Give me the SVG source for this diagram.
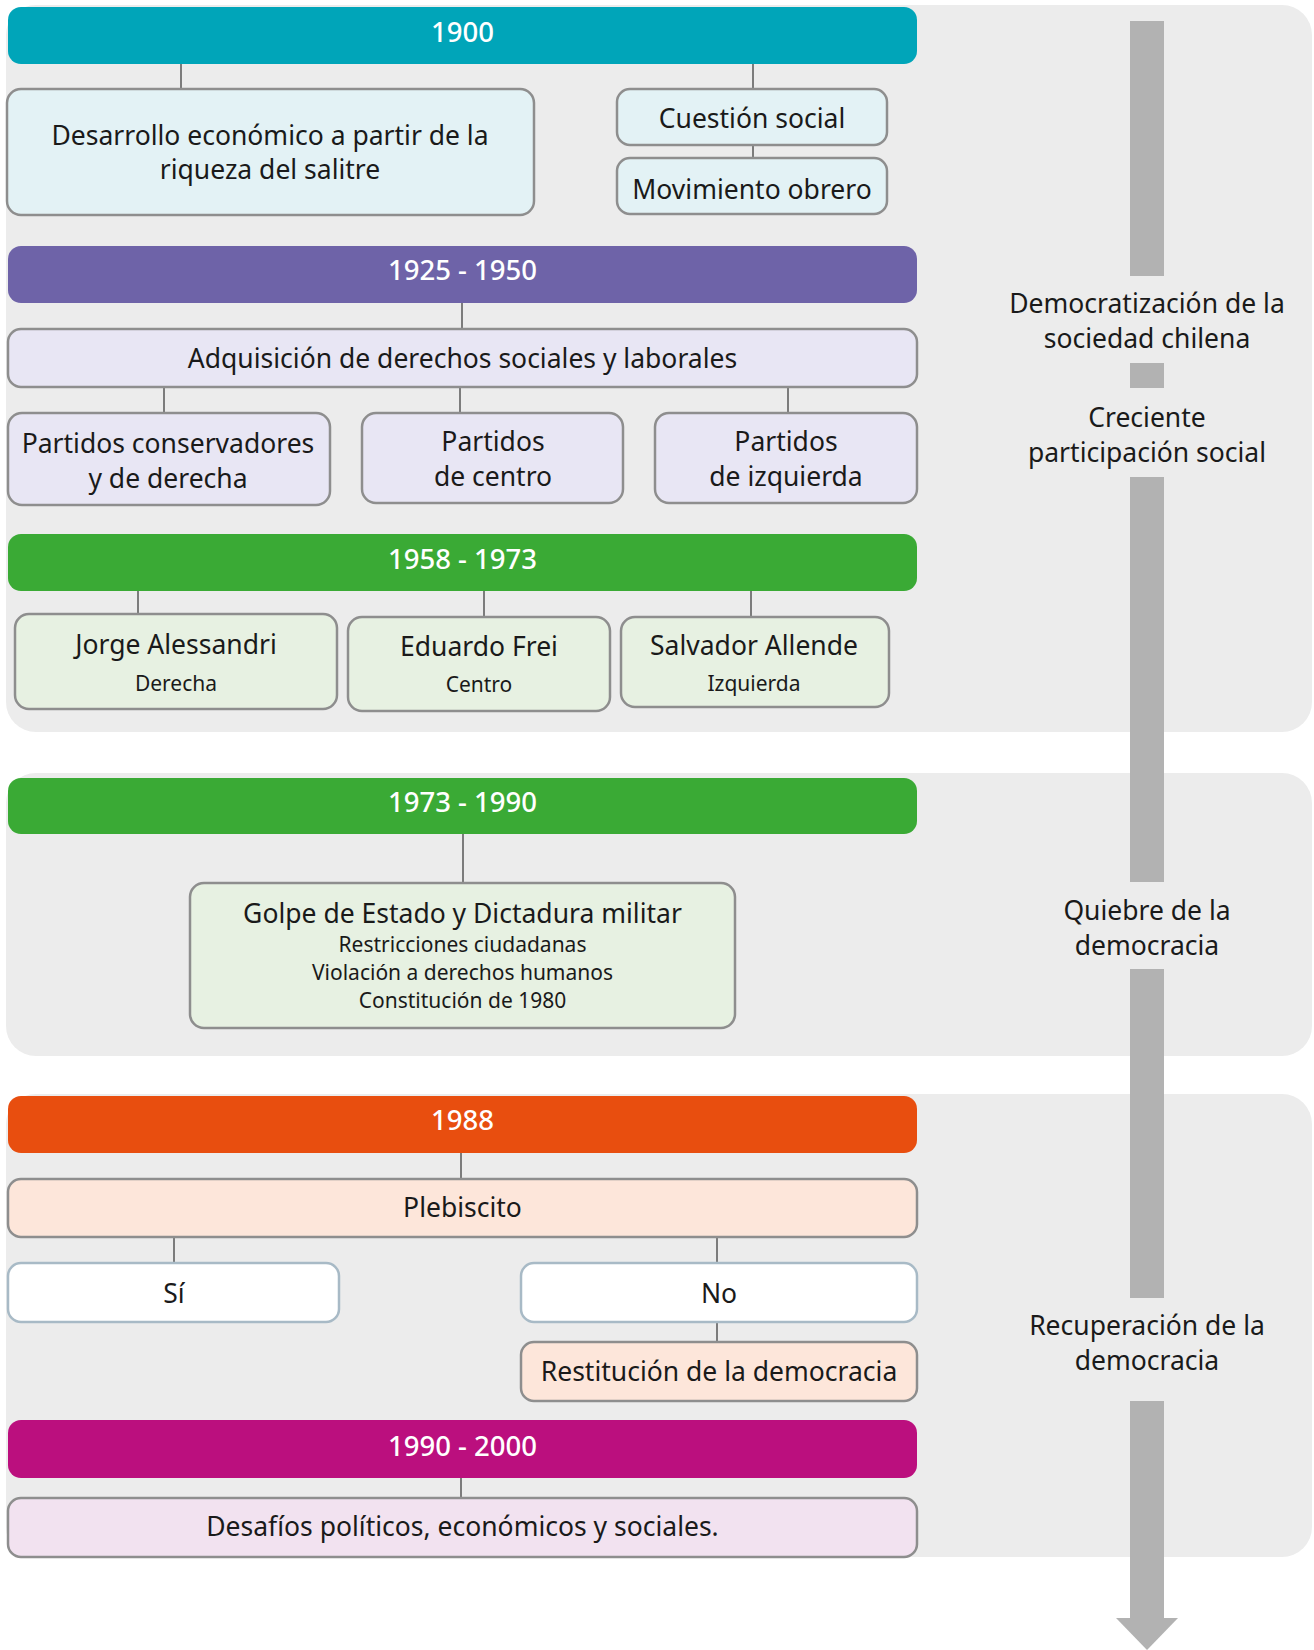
<svg xmlns="http://www.w3.org/2000/svg" width="1314" height="1650" viewBox="0 0 1314 1650">
<style>
  text { font-family: "Noto Sans", "Open Sans", "DejaVu Sans", sans-serif; text-anchor: middle; fill: #1a1a1a; }
  .t { font-size: 26.5px; }
  .s { font-size: 21px; }
  .bt { font-size: 27.5px; font-weight: 500; fill: #ffffff; }
  .panel { fill: #ececec; }
  .bar { stroke: none; }
  .box { stroke: #8e8e8e; stroke-width: 2.5; }
  .wbox { fill: #ffffff; stroke: #a8bac6; stroke-width: 2.5; }
  .cyan { fill: #e3f2f5; }
  .lav { fill: #e8e6f4; }
  .grn { fill: #e7f1e2; }
  .peach { fill: #fde6da; }
  .pink { fill: #f2e2f0; }
  .conn line { stroke: #7c7c7c; stroke-width: 2; }
  .tl { fill: #b2b2b2; }
</style>

<g id="panels">
  <rect class="panel" x="6" y="5" width="1306" height="727" rx="30"/>
  <rect class="panel" x="6" y="773" width="1306" height="283" rx="30"/>
  <rect class="panel" x="6" y="1094" width="1306" height="463" rx="30"/>
</g>

<g id="timeline">
  <rect class="tl" x="1130" y="21" width="34" height="255"/>
  <rect class="tl" x="1130" y="363" width="34" height="25"/>
  <rect class="tl" x="1130" y="477" width="34" height="405"/>
  <rect class="tl" x="1130" y="969" width="34" height="329"/>
  <rect class="tl" x="1130" y="1401" width="34" height="218"/>
  <polygon class="tl" points="1116,1618 1178,1618 1147,1650"/>
  <text class="t" x="1147" y="312.5">Democratización de la</text>
  <text class="t" x="1147" y="347.5">sociedad chilena</text>
  <text class="t" x="1147" y="426.5">Creciente</text>
  <text class="t" x="1147" y="461.5">participación social</text>
  <text class="t" x="1147" y="919.5">Quiebre de la</text>
  <text class="t" x="1147" y="954.5">democracia</text>
  <text class="t" x="1147" y="1334.5">Recuperación de la</text>
  <text class="t" x="1147" y="1369.5">democracia</text>
</g>

<g id="connectors" class="conn">
  <line x1="181" y1="64" x2="181" y2="89"/>
  <line x1="753" y1="64" x2="753" y2="89"/>
  <line x1="753" y1="145" x2="753" y2="158"/>
  <line x1="462" y1="303" x2="462" y2="329"/>
  <line x1="164" y1="387" x2="164" y2="413"/>
  <line x1="460" y1="387" x2="460" y2="413"/>
  <line x1="788" y1="387" x2="788" y2="413"/>
  <line x1="138" y1="591" x2="138" y2="614"/>
  <line x1="484" y1="591" x2="484" y2="617"/>
  <line x1="751" y1="591" x2="751" y2="617"/>
  <line x1="463" y1="834" x2="463" y2="883"/>
  <line x1="461" y1="1153" x2="461" y2="1179"/>
  <line x1="174" y1="1237" x2="174" y2="1263"/>
  <line x1="717" y1="1237" x2="717" y2="1263"/>
  <line x1="717" y1="1322" x2="717" y2="1342"/>
  <line x1="461" y1="1478" x2="461" y2="1498"/>
</g>

<g id="bar-1900"><rect class="bar" x="8" y="7" width="909" height="57" rx="13" fill="#00a5b9"/><text class="bt" x="462.5" y="41.5">1900</text></g>
<g id="n-desarrollo"><rect class="box cyan" x="7" y="89" width="527" height="126" rx="14"/><text class="t" x="270" y="144.5">Desarrollo económico a partir de la</text><text class="t" x="270" y="178.5">riqueza del salitre</text></g>
<g id="n-cuestion"><rect class="box cyan" x="617" y="89" width="270" height="56" rx="13"/><text class="t" x="752" y="127.5">Cuestión social</text></g>
<g id="n-movimiento"><rect class="box cyan" x="617" y="158" width="270" height="56" rx="13"/><text class="t" x="752" y="198.5">Movimiento obrero</text></g>

<g id="bar-1925"><rect class="bar" x="8" y="246" width="909" height="57" rx="13" fill="#6e63a8"/><text class="bt" x="462.5" y="279.5">1925 - 1950</text></g>
<g id="n-adquisicion"><rect class="box lav" x="8" y="329" width="909" height="58" rx="13"/><text class="t" x="462.5" y="367.5">Adquisición de derechos sociales y laborales</text></g>
<g id="n-conservadores"><rect class="box lav" x="8" y="413" width="322" height="92" rx="14"/><text class="t" x="168" y="452.5">Partidos conservadores</text><text class="t" x="168" y="487.5">y de derecha</text></g>
<g id="n-centro"><rect class="box lav" x="362" y="413" width="261" height="90" rx="14"/><text class="t" x="493" y="450.5">Partidos</text><text class="t" x="493" y="485.5">de centro</text></g>
<g id="n-izquierda"><rect class="box lav" x="655" y="413" width="262" height="90" rx="14"/><text class="t" x="786" y="450.5">Partidos</text><text class="t" x="786" y="485.5">de izquierda</text></g>

<g id="bar-1958"><rect class="bar" x="8" y="534" width="909" height="57" rx="13" fill="#3aaa35"/><text class="bt" x="462.5" y="569">1958 - 1973</text></g>
<g id="n-alessandri"><rect class="box grn" x="15" y="614" width="322" height="95" rx="14"/><text class="t" x="176" y="653.5">Jorge Alessandri</text><text class="s" x="176" y="690.5">Derecha</text></g>
<g id="n-frei"><rect class="box grn" x="348" y="617" width="262" height="94" rx="14"/><text class="t" x="479" y="655.5">Eduardo Frei</text><text class="s" x="479" y="691.5">Centro</text></g>
<g id="n-allende"><rect class="box grn" x="621" y="617" width="268" height="90" rx="14"/><text class="t" x="754" y="655">Salvador Allende</text><text class="s" x="754" y="691">Izquierda</text></g>

<g id="bar-1973"><rect class="bar" x="8" y="778" width="909" height="56" rx="13" fill="#3aaa35"/><text class="bt" x="462.5" y="812">1973 - 1990</text></g>
<g id="n-golpe"><rect class="box grn" x="190" y="883" width="545" height="145" rx="14"/><text class="t" x="462.5" y="922.5">Golpe de Estado y Dictadura militar</text><text class="s" x="462.5" y="951.5">Restricciones ciudadanas</text><text class="s" x="462.5" y="979.5">Violación a derechos humanos</text><text class="s" x="462.5" y="1008">Constitución de 1980</text></g>

<g id="bar-1988"><rect class="bar" x="8" y="1096" width="909" height="57" rx="13" fill="#e84e0f"/><text class="bt" x="462.5" y="1130">1988</text></g>
<g id="n-plebiscito"><rect class="box peach" x="8" y="1179" width="909" height="58" rx="13"/><text class="t" x="462.5" y="1217">Plebiscito</text></g>
<g id="n-si"><rect class="wbox" x="8" y="1263" width="331" height="59" rx="13"/><text class="t" x="174" y="1302.5">Sí</text></g>
<g id="n-no"><rect class="wbox" x="521" y="1263" width="396" height="59" rx="13"/><text class="t" x="719" y="1302.5">No</text></g>
<g id="n-restitucion"><rect class="box peach" x="521" y="1342" width="396" height="59" rx="13"/><text class="t" x="719" y="1381">Restitución de la democracia</text></g>

<g id="bar-1990"><rect class="bar" x="8" y="1420" width="909" height="58" rx="13" fill="#bb0f7e"/><text class="bt" x="462.5" y="1456">1990 - 2000</text></g>
<g id="n-desafios"><rect class="box pink" x="8" y="1498" width="909" height="59" rx="13"/><text class="t" x="462.5" y="1536">Desafíos políticos, económicos y sociales.</text></g>
</svg>
